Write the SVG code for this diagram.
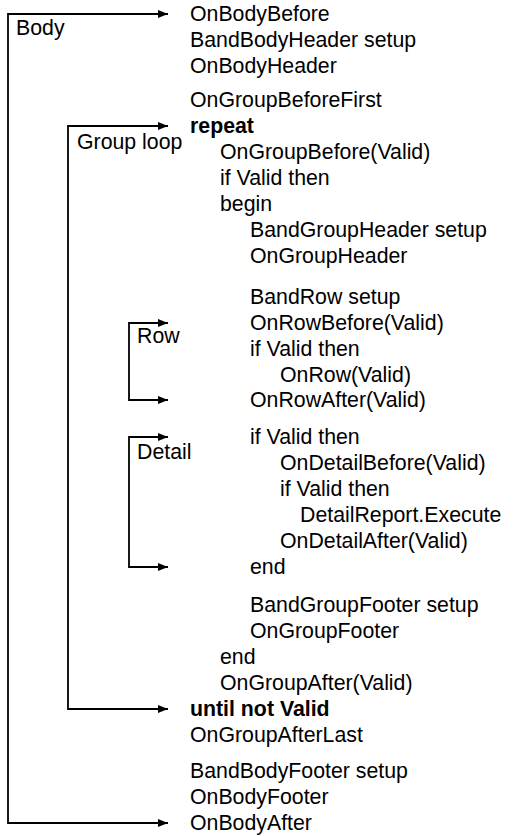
<svg xmlns="http://www.w3.org/2000/svg" width="515" height="836" viewBox="0 0 515 836">
<style>
text{font-family:"Liberation Sans",Arial,sans-serif;font-size:21.3px;fill:#000}
.b{font-weight:bold}
.c{fill:none;stroke:#000;stroke-width:1.8}
</style>
<defs>
<marker id="ah" markerWidth="10" markerHeight="8" refX="10" refY="4" orient="auto-start-reverse" markerUnits="userSpaceOnUse">
<path d="M0,0L10,4L0,8z" fill="#000"/>
</marker>
</defs>
<rect width="515" height="836" fill="#fff"/>
<g id="connectors">
<polyline class="c" points="168,14 8,14 8,823 168,823" marker-start="url(#ah)" marker-end="url(#ah)"/>
<polyline class="c" points="168,126 68,126 68,709 168,709" marker-start="url(#ah)" marker-end="url(#ah)"/>
<polyline class="c" points="168,323 129,323 129,400 168,400" marker-start="url(#ah)" marker-end="url(#ah)"/>
<polyline class="c" points="168,437 129,437 129,567 168,567" marker-start="url(#ah)" marker-end="url(#ah)"/>
</g>
<g id="labels">
<text x="16" y="35">Body</text>
<text x="77" y="149">Group loop</text>
<text x="137" y="343">Row</text>
<text x="137" y="459">Detail</text>
</g>
<g id="code">
<text x="190" y="21">OnBodyBefore</text>
<text x="190" y="47">BandBodyHeader setup</text>
<text x="190" y="73">OnBodyHeader</text>
<text x="190" y="107">OnGroupBeforeFirst</text>
<text x="190" y="133" class="b">repeat</text>
<text x="220" y="159">OnGroupBefore(Valid)</text>
<text x="220" y="185">if Valid then</text>
<text x="220" y="211">begin</text>
<text x="250" y="237">BandGroupHeader setup</text>
<text x="250" y="263">OnGroupHeader</text>
<text x="250" y="304">BandRow setup</text>
<text x="250" y="330">OnRowBefore(Valid)</text>
<text x="250" y="356">if Valid then</text>
<text x="280" y="382">OnRow(Valid)</text>
<text x="250" y="407">OnRowAfter(Valid)</text>
<text x="250" y="444">if Valid then</text>
<text x="280" y="470">OnDetailBefore(Valid)</text>
<text x="280" y="496">if Valid then</text>
<text x="300" y="522">DetailReport.Execute</text>
<text x="280" y="548">OnDetailAfter(Valid)</text>
<text x="250" y="574">end</text>
<text x="250" y="612">BandGroupFooter setup</text>
<text x="250" y="638">OnGroupFooter</text>
<text x="220" y="664">end</text>
<text x="220" y="690">OnGroupAfter(Valid)</text>
<text x="190" y="716" class="b">until not Valid</text>
<text x="190" y="742">OnGroupAfterLast</text>
<text x="190" y="778">BandBodyFooter setup</text>
<text x="190" y="804">OnBodyFooter</text>
<text x="190" y="830">OnBodyAfter</text>
</g>
</svg>
